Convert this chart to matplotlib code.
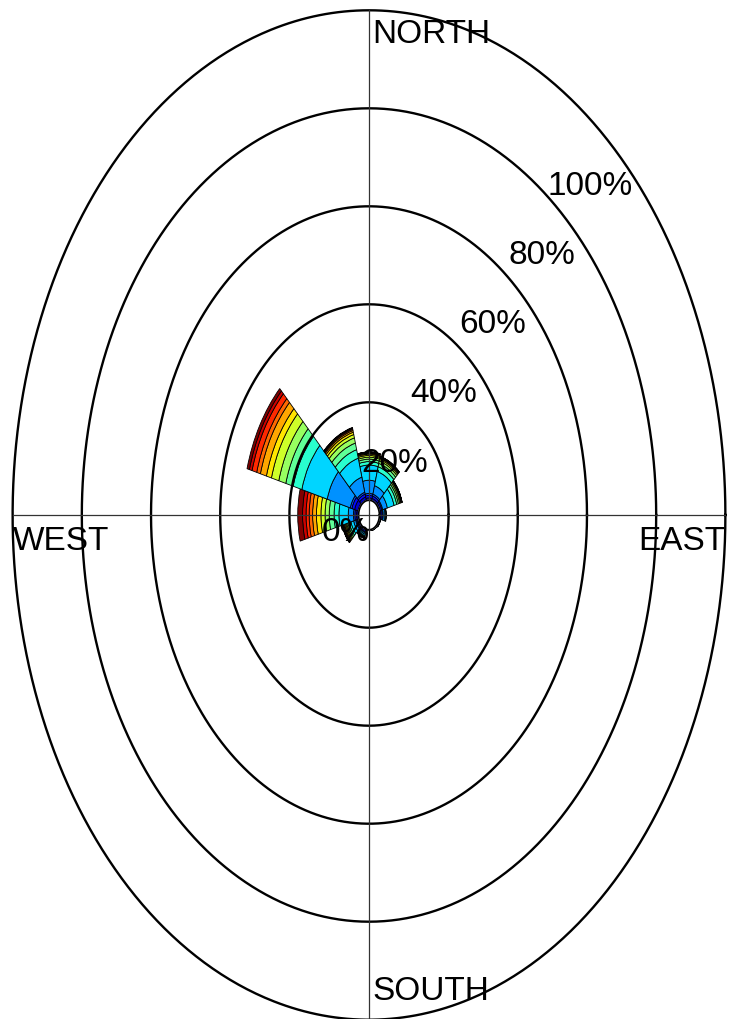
"""
Rosa dos ventos (estilo MATLAB WindRose) com 12 setores e 16 classes de velocidade
"""

import numpy as np
import matplotlib
matplotlib.use('Agg')
import matplotlib.pyplot as plt
from matplotlib.patches import Wedge

plt.rcParams['font.family'] = ['Liberation Sans', 'DejaVu Sans']

# Direcoes (graus, a partir do norte, sentido horario)
directions = [0, 30, 60, 90, 120, 150, 180, 210, 240, 270, 300, 330]

# Frequencia (%) por classe de velocidade, uma lista por direcao (16 classes)
freq_000 = [0.1, 0.4, 0.5, 0.4, 2.7, 3.1, 0.7, 0.5, 0.4, 0.35, 0.25, 0.2, 0.1, 0.1, 0.05, 0.05]
freq_030 = [0.1, 0.4, 0.5, 0.4, 1.8, 3.0, 1.0, 0.7, 0.5, 0.35, 0.25, 0.15, 0.1, 0.08, 0.05, 0.02]
freq_060 = [0.1, 0.3, 0.4, 0.3, 1.4, 2.0, 0.8, 0.5, 0.4, 0.3, 0.2, 0.1, 0.05, 0.03, 0.01, 0.01]
freq_090 = [0.1, 0.3, 0.4, 0.3, 0.5, 0.3, 0.1, 0, 0, 0, 0, 0, 0, 0, 0, 0]
freq_120 = [0.05, 0.15, 0.15, 0.1, 0.05, 0, 0, 0, 0, 0, 0, 0, 0, 0, 0, 0]
freq_150 = [0.05, 0.1, 0.1, 0.05, 0, 0, 0, 0, 0, 0, 0, 0, 0, 0, 0, 0]
freq_180 = [0.05, 0.05, 0.05, 0.05, 0, 0, 0, 0, 0, 0, 0, 0, 0, 0, 0, 0]
freq_210 = [0.1, 0.2, 0.3, 0.2, 0.3, 0.3, 0.2, 0.1, 0.1, 0.1, 0.05, 0.05, 0, 0, 0, 0]
freq_240 = [0.1, 0.3, 0.3, 0.3, 0.6, 0.8, 0.5, 0.4, 0.35, 0.3, 0.3, 0.25, 0.2, 0.15, 0.1, 0.05]
freq_270 = [0.2, 0.4, 0.5, 0.4, 1.5, 2.7, 1.4, 1.4, 1.2, 1.2, 1.3, 1.1, 1.0, 0.9, 1.0, 1.4]
freq_300 = [0.3, 1.0, 0.8, 0.5, 6.9, 7.6, 2.6, 2.2, 2.1, 2.2, 1.5, 1.8, 1.1, 1.4, 0.8, 0.7]
freq_330 = [0.2, 0.6, 0.6, 0.4, 3.2, 4.0, 1.8, 1.4, 1.1, 0.7, 0.5, 0.35, 0.25, 0.2, 0.1, 0.1]

freqs = [freq_000, freq_030, freq_060, freq_090, freq_120, freq_150,
         freq_180, freq_210, freq_240, freq_270, freq_300, freq_330]

ring_values = [20, 40, 60, 80, 100]
ring_labels = ['0%', '20%', '40%', '60%', '80%', '100%']
cardinal_labels = ['NORTH', 'EAST', 'SOUTH', 'WEST']

# Geometria
hole = 3.0          # raio do furo central (em %)
sector_width = 30
rmax = hole + ring_values[-1]

fig = plt.figure(figsize=(7.3, 10.2), dpi=100)
ax = fig.add_axes([0, 0, 1, 1])
ax.set_axis_off()

# escala anisotropica (a figura original foi esticada na vertical)
sx, sy = 3.46, 4.9
cx, cy = 369, 516
ax.set_xlim(-cx / sx, (730 - cx) / sx)
ax.set_ylim(-(1020 - cy) / sy, cy / sy)

colors = plt.cm.jet(np.linspace(0, 1, 16))

# Setores empilhados
for d, f in zip(directions, freqs):
    theta_c = 90 - d
    cum = np.cumsum(f)
    for k, (val, top) in enumerate(zip(f, cum)):
        if val <= 0:
            continue
        w = Wedge((0, 0), hole + top, theta_c - sector_width / 2, theta_c + sector_width / 2,
                  width=val, facecolor=colors[k], edgecolor='black', linewidth=0.6, zorder=2)
        ax.add_patch(w)

# Aneis
t = np.linspace(0, 2 * np.pi, 721)
ax.fill(hole * np.cos(t), hole * np.sin(t), color='white', zorder=3)
ax.plot(hole * np.cos(t), hole * np.sin(t), color='black', lw=1.2, zorder=4)
for rv in ring_values:
    r = hole + rv
    ax.plot(r * np.cos(t), r * np.sin(t), color='black', lw=1.7, zorder=4)

# Eixos
ax.plot([-rmax, rmax], [0, 0], color='#333333', lw=0.9, zorder=4)
ax.plot([0, 0], [-rmax, rmax], color='#333333', lw=0.9, zorder=4)

# Rotulos dos aneis
fs = 24
a = np.deg2rad(45)
for rv, lab in zip([0] + ring_values, ring_labels):
    r = hole + rv
    ax.text(r * np.cos(a) - 8.8, r * np.sin(a) - 5.5, lab, ha='center', va='center',
            fontsize=fs, color='black', zorder=5)

# Rotulos cardeais
ax.text(0.9, rmax - 4.8, cardinal_labels[0], ha='left', va='center', fontsize=fs, zorder=5)
ax.text(rmax, -5.2, cardinal_labels[1], ha='right', va='center', fontsize=fs, zorder=5)
ax.text(0.9, -rmax + 6.0, cardinal_labels[2], ha='left', va='center', fontsize=fs, zorder=5)
ax.text(-rmax, -5.2, cardinal_labels[3], ha='left', va='center', fontsize=fs, zorder=5)

fig.savefig('out.png', dpi=100)
plt.close(fig)
